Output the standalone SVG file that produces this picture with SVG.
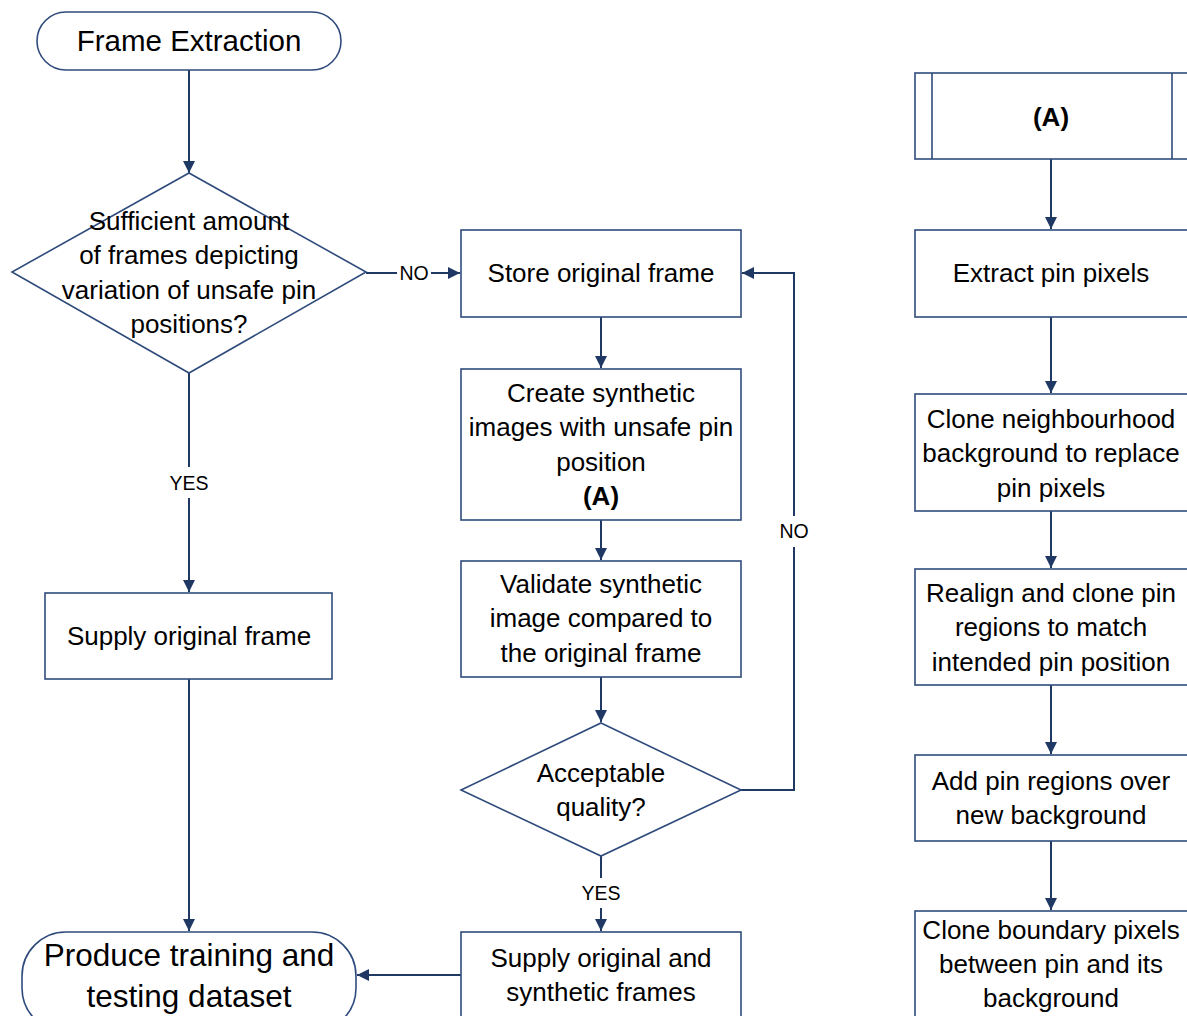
<svg xmlns="http://www.w3.org/2000/svg" width="1187" height="1016" viewBox="0 0 1187 1016">
  <style>
    .shape { fill: #ffffff; stroke: #2F4B7C; stroke-width: 1.6; }
    .conn { fill: none; stroke: #1F3864; stroke-width: 2; }
    .t { font-family: "Liberation Sans", Arial, sans-serif; font-size: 26px; fill: #000000; text-anchor: middle; }
    .big { font-size: 29.5px; }
    .huge { font-size: 31.5px; }
    .b { font-weight: bold; }
    .lbl { font-family: "Liberation Sans", Arial, sans-serif; font-size: 19.5px; fill: #000000; text-anchor: middle; }
  </style>
  <defs>
    <marker id="arrow" viewBox="0 0 12 12" refX="12" refY="6" markerWidth="12" markerHeight="12" markerUnits="userSpaceOnUse" orient="auto">
      <path d="M0,0 L12,6 L0,12 Z" fill="#1F3864"/>
    </marker>
  </defs>
  <rect width="1187" height="1016" fill="#ffffff"/>

  <!-- connectors -->
  <g id="connectors">
    <line class="conn" x1="189" y1="70" x2="189" y2="173" marker-end="url(#arrow)"/>
    <line class="conn" x1="366" y1="273" x2="397" y2="273"/>
    <line class="conn" x1="431" y1="273" x2="460" y2="273" marker-end="url(#arrow)"/>
    <line class="conn" x1="189" y1="373" x2="189" y2="467"/>
    <line class="conn" x1="189" y1="498" x2="189" y2="592" marker-end="url(#arrow)"/>
    <line class="conn" x1="189" y1="679" x2="189" y2="931" marker-end="url(#arrow)"/>
    <line class="conn" x1="601" y1="317" x2="601" y2="368" marker-end="url(#arrow)"/>
    <line class="conn" x1="601" y1="520" x2="601" y2="560" marker-end="url(#arrow)"/>
    <line class="conn" x1="601" y1="677" x2="601" y2="722" marker-end="url(#arrow)"/>
    <polyline class="conn" points="741,790 794,790 794,547"/>
    <polyline class="conn" points="794,516 794,273 742,273" marker-end="url(#arrow)"/>
    <line class="conn" x1="601" y1="856" x2="601" y2="878"/>
    <line class="conn" x1="601" y1="908" x2="601" y2="931" marker-end="url(#arrow)"/>
    <line class="conn" x1="461" y1="975" x2="357" y2="975" marker-end="url(#arrow)"/>
    <line class="conn" x1="1051" y1="159" x2="1051" y2="229" marker-end="url(#arrow)"/>
    <line class="conn" x1="1051" y1="317" x2="1051" y2="393" marker-end="url(#arrow)"/>
    <line class="conn" x1="1051" y1="511" x2="1051" y2="568" marker-end="url(#arrow)"/>
    <line class="conn" x1="1051" y1="685" x2="1051" y2="754" marker-end="url(#arrow)"/>
    <line class="conn" x1="1051" y1="841" x2="1051" y2="910" marker-end="url(#arrow)"/>
    <text class="lbl" x="414" y="280">NO</text>
    <text class="lbl" x="189" y="490">YES</text>
    <text class="lbl" x="794" y="538">NO</text>
    <text class="lbl" x="601" y="900">YES</text>
  </g>

  <!-- left column -->
  <g id="frame-extraction">
    <rect class="shape" x="37" y="12" width="304" height="58" rx="29" ry="29"/>
    <text class="t big" x="189" y="51">Frame Extraction</text>
  </g>
  <g id="sufficient-frames">
    <polygon class="shape" points="189,173 366,272 189,373 12,272"/>
    <text class="t" x="189" y="230">Sufficient amount</text>
    <text class="t" x="189" y="264">of frames depicting</text>
    <text class="t" x="189" y="299">variation of unsafe pin</text>
    <text class="t" x="189" y="333">positions?</text>
  </g>
  <g id="supply-original">
    <rect class="shape" x="45" y="593" width="287" height="86"/>
    <text class="t" x="189" y="645">Supply original frame</text>
  </g>
  <g id="produce-dataset">
    <rect class="shape" x="22" y="932" width="334" height="100" rx="44" ry="44"/>
    <text class="t huge" x="189" y="966">Produce training and</text>
    <text class="t huge" x="189" y="1007">testing dataset</text>
  </g>

  <!-- middle column -->
  <g id="store-original">
    <rect class="shape" x="461" y="230" width="280" height="87"/>
    <text class="t" x="601" y="282">Store original frame</text>
  </g>
  <g id="create-synthetic">
    <rect class="shape" x="461" y="369" width="280" height="151"/>
    <text class="t" x="601" y="402">Create synthetic</text>
    <text class="t" x="601" y="436">images with unsafe pin</text>
    <text class="t" x="601" y="471">position</text>
    <text class="t b" x="601" y="505">(A)</text>
  </g>
  <g id="validate-synthetic">
    <rect class="shape" x="461" y="561" width="280" height="116"/>
    <text class="t" x="601" y="593">Validate synthetic</text>
    <text class="t" x="601" y="627">image compared to</text>
    <text class="t" x="601" y="662">the original frame</text>
  </g>
  <g id="acceptable-quality">
    <polygon class="shape" points="601,723 741,790 601,856 461,790"/>
    <text class="t" x="601" y="782">Acceptable</text>
    <text class="t" x="601" y="816">quality?</text>
  </g>
  <g id="supply-both">
    <rect class="shape" x="461" y="932" width="280" height="100"/>
    <text class="t" x="601" y="967">Supply original and</text>
    <text class="t" x="601" y="1001">synthetic frames</text>
  </g>

  <!-- right column: sub-process (A) -->
  <g id="process-a">
    <rect class="shape" x="915" y="73" width="274" height="86"/>
    <line class="shape" x1="932" y1="73" x2="932" y2="159"/>
    <line class="shape" x1="1172" y1="73" x2="1172" y2="159"/>
    <text class="t b" x="1051" y="126">(A)</text>
  </g>
  <g id="extract-pin">
    <rect class="shape" x="915" y="230" width="274" height="87"/>
    <text class="t" x="1051" y="282">Extract pin pixels</text>
  </g>
  <g id="clone-neighbourhood">
    <rect class="shape" x="915" y="394" width="274" height="117"/>
    <text class="t" x="1051" y="428">Clone neighbourhood</text>
    <text class="t" x="1051" y="462">background to replace</text>
    <text class="t" x="1051" y="497">pin pixels</text>
  </g>
  <g id="realign-clone">
    <rect class="shape" x="915" y="569" width="274" height="116"/>
    <text class="t" x="1051" y="602">Realign and clone pin</text>
    <text class="t" x="1051" y="636">regions to match</text>
    <text class="t" x="1051" y="671">intended pin position</text>
  </g>
  <g id="add-pin-regions">
    <rect class="shape" x="915" y="755" width="274" height="86"/>
    <text class="t" x="1051" y="790">Add pin regions over</text>
    <text class="t" x="1051" y="824">new background</text>
  </g>
  <g id="clone-boundary">
    <rect class="shape" x="915" y="911" width="274" height="120"/>
    <text class="t" x="1051" y="939">Clone boundary pixels</text>
    <text class="t" x="1051" y="973">between pin and its</text>
    <text class="t" x="1051" y="1007">background</text>
  </g>
</svg>
